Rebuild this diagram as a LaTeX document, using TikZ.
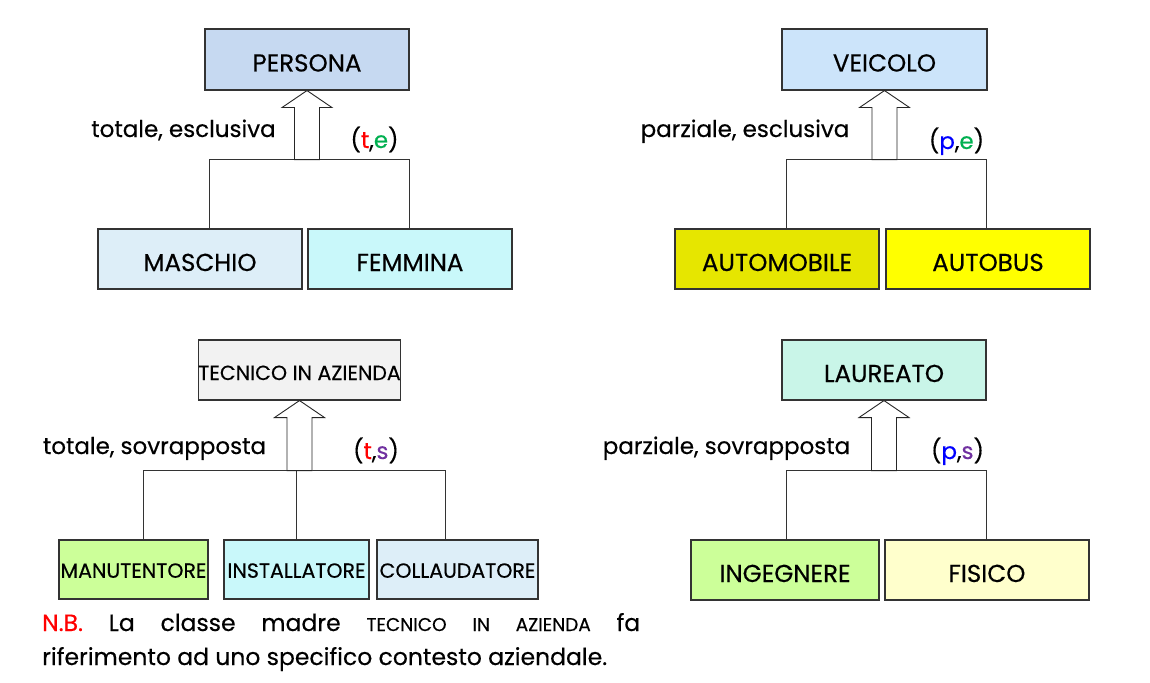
\documentclass[tikz,border=0pt]{standalone}
\usepackage{fontspec}
\setmainfont{Poppins}[FakeBold=0.35]
\definecolor{cPersona}{HTML}{C6D9F1}
\definecolor{cVeicolo}{HTML}{CCE4FA}
\definecolor{cMaschio}{HTML}{DDEEF8}
\definecolor{cCyan}{HTML}{C9F8FA}
\definecolor{cAuto}{HTML}{E6E600}
\definecolor{cBus}{HTML}{FFFF00}
\definecolor{cTecnico}{HTML}{F2F2F2}
\definecolor{cGreen}{HTML}{CCFF99}
\definecolor{cLaureato}{HTML}{C9F5E8}
\definecolor{cFisico}{HTML}{FFFFCC}
\definecolor{tRed}{HTML}{FF0000}
\definecolor{eGreen}{HTML}{00B050}
\definecolor{pBlue}{HTML}{0000FF}
\definecolor{sPurple}{HTML}{7030A0}
\begin{document}
\begin{tikzpicture}[x=1pt,y=-1pt,
  entity/.style={draw=black!80, line width=1.1pt, minimum height=60pt, inner sep=0pt,
    text height=24pt, text depth=0pt, font=\fontsize{24.5}{28}\selectfont},
  small/.style={font=\fontsize{20.5}{24}\selectfont, text height=16.5pt},
  genarrow/.style={draw=black!85, line width=0.9pt, fill=white},
  link/.style={draw=black!80, line width=0.9pt},
  lbl/.style={anchor=base, inner sep=0pt, font=\fontsize{23}{27}\selectfont}]
\useasboundingbox (0,0) rectangle (1150,682);
\fill[white] (0,0) rectangle (1150,682);

% ---------- PERSONA ----------
\node[entity, fill=cPersona, minimum width=204pt, minimum height=61pt] (persona) at (307,59.5) {PERSONA};
\node[entity, fill=cMaschio, minimum width=204pt] (maschio) at (200,259) {MASCHIO};
\node[entity, fill=cCyan, minimum width=204pt] (femmina) at (410,259) {FEMMINA};
\coordinate (j1) at ([yshift=-69pt]persona.south);
\draw[link] ([xshift=9pt]maschio.north) |- ([xshift=-1pt]femmina.north |- j1) -- ([xshift=-1pt]femmina.north);
\draw[genarrow] (persona.south) -- ++(25,17) -- ++(-12.5,0) -- ++(0,52) -- ++(-25,0) -- ++(0,-52) -- ++(-12.5,0) -- cycle;
\node[lbl] (l1) at (183.5,137) {totale, esclusiva};
\node[lbl] (c1) at (374.5,148) {(\textcolor{tRed}{t},\textcolor{eGreen}{e})};

% ---------- VEICOLO ----------
\node[entity, fill=cVeicolo, minimum width=205pt, minimum height=61pt] (veicolo) at (884.5,59.5) {VEICOLO};
\node[entity, fill=cAuto, minimum width=204pt] (automobile) at (777,259) {AUTOMOBILE};
\node[entity, fill=cBus, minimum width=204pt] (autobus) at (988,259) {AUTOBUS};
\coordinate (j2) at ([yshift=-69pt]veicolo.south);
\draw[link] ([xshift=9pt]automobile.north) |- ([xshift=-2pt]autobus.north |- j2) -- ([xshift=-2pt]autobus.north);
\draw[genarrow] (veicolo.south) -- ++(25,17) -- ++(-12.5,0) -- ++(0,52) -- ++(-25,0) -- ++(0,-52) -- ++(-12.5,0) -- cycle;
\node[lbl] (l2) at (745,137) {parziale, esclusiva};
\node[lbl] (c2) at (956.5,149) {(\textcolor{pBlue}{p},\textcolor{eGreen}{e})};

% ---------- TECNICO IN AZIENDA ----------
\node[entity, small, fill=cTecnico, minimum width=201pt, text height=20pt] (tecnico) at (299.5,370) {TECNICO IN AZIENDA};
\node[entity, small, fill=cGreen, minimum width=149pt, minimum height=59pt] (manut) at (133.5,569.5) {MANUTENTORE};
\node[entity, small, fill=cCyan, minimum width=145pt, minimum height=59pt] (install) at (296.5,569.5) {INSTALLATORE};
\node[entity, small, fill=cMaschio, minimum width=161pt, minimum height=59pt] (collaud) at (457.5,569.5) {COLLAUDATORE};
\coordinate (j3) at ([yshift=-70pt]tecnico.south);
\draw[link] ([xshift=9.5pt]manut.north) |- ([xshift=-12.5pt]collaud.north |- j3) -- ([xshift=-12.5pt]collaud.north);
\draw[link] (install.north) -- (install.north |- j3);
\draw[genarrow] (tecnico.south) -- ++(25,17) -- ++(-12.5,0) -- ++(0,53) -- ++(-25,0) -- ++(0,-53) -- ++(-12.5,0) -- cycle;
\node[lbl] (l3) at (154.5,454) {totale, sovrapposta};
\node[lbl] (c3) at (376,459) {(\textcolor{tRed}{t},\textcolor{sPurple}{s})};

% ---------- LAUREATO ----------
\node[entity, fill=cLaureato, minimum width=204pt] (laureato) at (884,370) {LAUREATO};
\node[entity, fill=cGreen, minimum width=188pt] (ingegnere) at (785,570) {INGEGNERE};
\node[entity, fill=cFisico, minimum width=204pt] (fisico) at (987,570) {FISICO};
\coordinate (j4) at ([yshift=-70pt]laureato.south);
\draw[link] ([xshift=1pt]ingegnere.north) |- ([xshift=-1pt]fisico.north |- j4) -- ([xshift=-1pt]fisico.north);
\draw[genarrow] (laureato.south) -- ++(25,17) -- ++(-12.5,0) -- ++(0,53) -- ++(-25,0) -- ++(0,-53) -- ++(-12.5,0) -- cycle;
\node[lbl] (l4) at (726.5,454) {parziale, sovrapposta};
\node[lbl] (c4) at (957.5,459) {(\textcolor{pBlue}{p},\textcolor{sPurple}{s})};

% ---------- note ----------
\node[anchor=base west, inner sep=0pt, font=\fontsize{23.5}{27}\selectfont] (nb1) at (42,631)
  {\hbox to 598pt{\textcolor{tRed}{N.B.}\hfill La\hfill classe\hfill madre\hfill {\fontsize{18.5}{22}\selectfont TECNICO\hfill IN\hfill AZIENDA}\hfill fa}};
\node[anchor=base west, inner sep=0pt, font=\fontsize{23.5}{27}\selectfont] (nb2) at (42,665)
  {riferimento ad uno specifico contesto aziendale.};
\end{tikzpicture}
\end{document}
